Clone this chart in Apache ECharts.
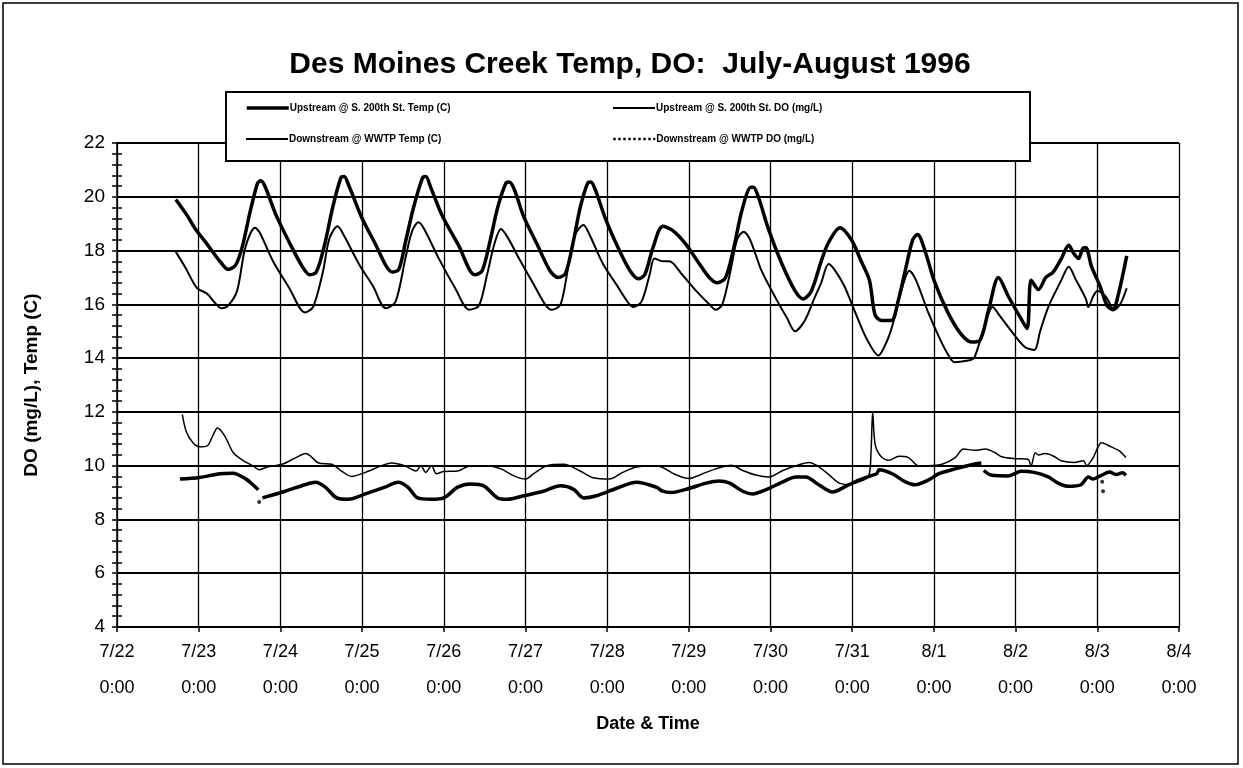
<!DOCTYPE html>
<html>
<head>
<meta charset="utf-8">
<title>Des Moines Creek Temp, DO</title>
<script src="https://cdn.jsdelivr.net/npm/echarts@6/dist/echarts.min.js"></script>
<style>
  html, body { margin: 0; padding: 0; background: #fff; }
  #chart { width: 1243px; height: 768px; }
</style>
</head>
<body>
<div id="chart"></div>
<script>
// x values are days after 7/22 0:00
var xTickLabels = ['7/22\n0:00', '7/23\n0:00', '7/24\n0:00', '7/25\n0:00', '7/26\n0:00', '7/27\n0:00',
  '7/28\n0:00', '7/29\n0:00', '7/30\n0:00', '7/31\n0:00', '8/1\n0:00', '8/2\n0:00', '8/3\n0:00', '8/4\n0:00'];

var seriesNames = ['Upstream @ S. 200th St. Temp (C)', 'Upstream @ S. 200th St. DO (mg/L)',
  'Downstream @ WWTP Temp (C)', 'Downstream @ WWTP DO (mg/L)'];

var upTempT = [0.72, 0.86, 0.96, 1.10, 1.26, 1.36, 1.45, 1.53, 1.63, 1.72, 1.76, 1.81, 1.95, 2.11, 2.26, 2.36, 2.44,
  2.54, 2.64, 2.74, 2.78, 2.84, 3.00, 3.17, 3.29, 3.37, 3.45, 3.53, 3.63, 3.74, 3.78, 3.84, 3.98, 4.18, 4.38,
  4.47, 4.57, 4.66, 4.76, 4.80, 4.86, 4.98, 5.14, 5.30, 5.40, 5.49, 5.59, 5.67, 5.76, 5.80, 5.85, 5.99, 6.15,
  6.28, 6.38, 6.46, 6.56, 6.68, 6.80, 6.96, 7.13, 7.25, 7.35, 7.45, 7.55, 7.65, 7.76, 7.79, 7.85, 7.98, 8.14,
  8.30, 8.40, 8.50, 8.62, 8.71, 8.85, 8.99, 9.11, 9.21, 9.28, 9.36, 9.48, 9.56, 9.66, 9.74, 9.80, 9.90, 10.00,
  10.17, 10.33, 10.46, 10.56, 10.67, 10.79, 10.91, 11.05, 11.14, 11.19, 11.28, 11.37, 11.46, 11.56, 11.65,
  11.71, 11.77, 11.83, 11.86, 11.93, 12.03, 12.12, 12.19, 12.26, 12.36];
var upTempV = [19.9, 19.3, 18.8, 18.25, 17.6, 17.3, 17.45, 18.1, 19.45, 20.5, 20.6, 20.4, 19.3, 18.3, 17.45, 17.1, 17.2,
  18.2, 19.6, 20.7, 20.75, 20.4, 19.2, 18.2, 17.45, 17.2, 17.3, 18.3, 19.6, 20.7, 20.75, 20.35, 19.3, 18.2, 17.1,
  17.25, 18.4, 19.6, 20.5, 20.55, 20.3, 19.25, 18.25, 17.25, 17.0, 17.15, 18.4, 19.6, 20.5, 20.55, 20.3, 19.1, 18.0,
  17.25, 16.95, 17.1, 18.1, 18.9, 18.75, 18.25, 17.5, 17.0, 16.8, 17.0, 18.1, 19.5, 20.35, 20.35, 20.0, 18.75, 17.5,
  16.5, 16.2, 16.5, 17.6, 18.3, 18.85, 18.4, 17.6, 16.9, 15.6, 15.4, 15.4, 16.1, 17.4, 18.4, 18.6, 17.9, 16.9,
  15.7, 14.9, 14.6, 14.65, 15.8, 17.0, 16.3, 15.55, 15.1, 16.9, 16.55, 17.0, 17.2, 17.7, 18.2,
  17.9, 17.7, 18.1, 18.1, 17.4, 16.7, 15.95, 15.8, 16.4, 17.8];

var upDoT = [0.80, 0.85, 0.93, 1.01, 1.11, 1.17, 1.23, 1.32, 1.42, 1.54, 1.66, 1.74, 1.84, 2.02, 2.19, 2.31, 2.47,
  2.63, 2.75, 2.87, 3.04, 3.24, 3.36, 3.52, 3.66, 3.72, 3.78, 3.85, 3.91, 4.00, 4.17, 4.33, 4.53, 4.70, 4.86,
  5.00, 5.10, 5.26, 5.47, 5.67, 5.83, 6.03, 6.19, 6.36, 6.60, 6.85, 7.00, 7.17, 7.33, 7.52, 7.66, 7.82, 7.98,
  8.15, 8.31, 8.47, 8.57, 8.72, 8.84, 8.96, 9.08, 9.20, 9.23, 9.25, 9.28, 9.35, 9.45, 9.57, 9.69, 9.81, 9.93,
  10.10, 10.26, 10.36, 10.50, 10.63, 10.75, 10.83, 10.99, 11.15, 11.19, 11.24, 11.28, 11.36, 11.46, 11.56,
  11.72, 11.83, 11.87, 11.95, 12.01, 12.05, 12.17, 12.27, 12.35];
var upDoV = [11.9, 11.25, 10.85, 10.7, 10.75, 11.1, 11.4, 11.1, 10.5, 10.2, 10.0, 9.85, 9.95, 10.05, 10.3, 10.45, 10.1,
  10.05, 9.8, 9.6, 9.75, 10.0, 10.1, 10.0, 9.8, 10.0, 9.75, 10.0, 9.7, 9.78, 9.8, 10.0, 10.0, 9.88, 9.62,
  9.5, 9.7, 10.0, 10.05, 9.8, 9.55, 9.5, 9.75, 9.95, 10.0, 9.65, 9.52, 9.7, 9.88, 10.02, 9.82, 9.65, 9.58,
  9.82, 10.0, 10.12, 10.0, 9.65, 9.35, 9.3, 9.4, 9.6, 10.5, 12.0, 10.8, 10.35, 10.2, 10.35, 10.3, 10.0, 10.0,
  10.05, 10.3, 10.62, 10.57, 10.62, 10.48, 10.33, 10.26, 10.24, 10.0, 10.48, 10.4, 10.45, 10.36, 10.18,
  10.12, 10.18, 10.0, 10.3, 10.7, 10.85, 10.7, 10.55, 10.3];

var downTempT = [0.72, 0.84, 0.98, 1.10, 1.20, 1.28, 1.36, 1.47, 1.57, 1.69, 1.75, 1.91, 2.11, 2.30, 2.40, 2.52, 2.60,
  2.70, 2.78, 2.97, 3.13, 3.29, 3.41, 3.53, 3.61, 3.69, 3.76, 3.94, 4.14, 4.31, 4.43, 4.53, 4.62, 4.70, 4.78,
  4.94, 5.10, 5.24, 5.32, 5.43, 5.53, 5.61, 5.71, 5.79, 5.95, 6.11, 6.26, 6.32, 6.42, 6.52, 6.58, 6.68, 6.76,
  6.92, 7.09, 7.25, 7.33, 7.41, 7.51, 7.59, 7.67, 7.75, 7.89, 8.06, 8.20, 8.30, 8.42, 8.54, 8.62, 8.71, 8.78,
  8.90, 9.05, 9.18, 9.32, 9.42, 9.50, 9.60, 9.70, 9.78, 9.93, 10.06, 10.16, 10.25, 10.40, 10.49, 10.60, 10.72,
  10.80, 11.00, 11.12, 11.23, 11.30, 11.40, 11.56, 11.65, 11.74, 11.86, 11.89, 11.95, 12.00, 12.10, 12.21,
  12.28, 12.36];
var downTempV = [17.95, 17.35, 16.6, 16.4, 16.05, 15.85, 15.95, 16.5, 18.1, 18.85, 18.65, 17.6, 16.6, 15.7, 15.9, 17.2, 18.45,
  18.9, 18.55, 17.45, 16.7, 15.85, 16.1, 17.7, 18.7, 19.05, 18.8, 17.7, 16.6, 15.8, 15.95, 17.1, 18.25, 18.8, 18.5,
  17.6, 16.75, 16.0, 15.8, 16.0, 17.5, 18.6, 18.95, 18.55, 17.5, 16.75, 16.05, 15.9, 16.1, 17.1, 17.7, 17.6, 17.6,
  17.1, 16.5, 16.0, 15.8, 16.0, 17.25, 18.4, 18.7, 18.4, 17.25, 16.25, 15.5, 15.0, 15.4, 16.25, 16.8, 17.5, 17.3,
  16.7, 15.6, 14.7, 14.1, 14.6, 15.3, 16.5, 17.25, 16.9, 15.7, 14.8, 14.2, 13.85, 13.9, 14.0, 15.0, 15.9,
  15.6, 14.8, 14.4, 14.3, 15.0, 15.9, 16.9, 17.4, 16.9, 16.2, 15.9, 16.3, 16.5, 16.3, 15.8,
  16.0, 16.6];

// null marks a gap in the record
var downDoT = [0.77, 1.01, 1.26, 1.42, 1.58, 1.66, 1.73, 1.755, 1.78, 2.06, 2.31, 2.43, 2.55, 2.69, 2.83, 3.04, 3.28,
  3.44, 3.56, 3.68, 3.85, 4.00, 4.17, 4.33, 4.49, 4.66, 4.78, 4.98, 5.22, 5.43, 5.59, 5.71, 5.87, 6.11, 6.36,
  6.60, 6.68, 6.78, 7.00, 7.21, 7.37, 7.50, 7.66, 7.78, 7.94, 8.15, 8.31, 8.43, 8.59, 8.76, 8.92, 9.08, 9.24,
  9.30, 9.33, 9.49, 9.65, 9.77, 9.93, 10.06, 10.26, 10.50, 10.58, 10.595, 10.61, 10.71, 10.91, 11.07, 11.24,
  11.40, 11.52, 11.64, 11.80, 11.89, 11.95, 12.05, 12.15, 12.23, 12.31, 12.35];
var downDoV = [9.5, 9.56, 9.7, 9.72, 9.5, 9.3, 9.1, null, 8.8, 9.05, 9.3, 9.38, 9.2, 8.8, 8.75, 8.95, 9.2,
  9.38, 9.2, 8.8, 8.75, 8.8, 9.2, 9.32, 9.25, 8.8, 8.75, 8.88, 9.05, 9.25, 9.12, 8.8, 8.88, 9.15, 9.38,
  9.2, 9.05, 9.0, 9.15, 9.35, 9.43, 9.35, 9.05, 8.95, 9.1, 9.4, 9.58, 9.58, 9.29, 9.02, 9.23, 9.46, 9.64,
  9.7, 9.85, 9.7, 9.4, 9.29, 9.46, 9.7, 9.88, 10.06, 10.1, null, 9.82, 9.64, 9.62, 9.79, 9.74,
  9.58, 9.35, 9.23, 9.29, 9.58, 9.5, 9.64, 9.76, 9.67, 9.74, 9.64];

// loose points of the downstream DO record
var downDoDotT = [1.74, 12.06, 12.07];
var downDoDotV = [8.65, 9.4, 9.05];

function pairs(t, v) {
  var out = [];
  for (var i = 0; i < t.length; i++) {
    out.push([t[i], v[i] === null ? '-' : v[i]]);
  }
  return out;
}

var FONT = "'Liberation Sans', Arial, sans-serif";
var chart = echarts.init(document.getElementById('chart'));

function legendFor(name, left, top, lineStyle) {
  return {
    data: [name],
    left: left,
    top: top,
    z: 6,
    padding: 0,
    itemWidth: 42,
    itemHeight: 12,
    itemGap: 0,
    selectedMode: false,
    itemStyle: { opacity: 0 },
    lineStyle: lineStyle,
    textStyle: { fontFamily: FONT, fontSize: 10, fontWeight: 'bold', color: '#000', padding: [0, 0, 0, -4] }
  };
}

var option = {
  backgroundColor: '#fff',
  animation: false,
  color: ['#000', '#000', '#000', '#000', '#000'],
  title: {
    text: 'Des Moines Creek Temp, DO:  July-August 1996',
    left: 625,
    top: 45,
    textAlign: 'center',
    textStyle: { fontFamily: FONT, fontSize: 30, fontWeight: 'bold', color: '#000' }
  },
  legend: [
    legendFor(seriesNames[0], 245, 103, { color: '#000', width: 3.5 }),
    legendFor(seriesNames[1], 612, 103, { color: '#000', width: 2 }),
    legendFor(seriesNames[2], 245, 134, { color: '#000', width: 2 }),
    legendFor(seriesNames[3], 612, 134, { color: '#000', type: 'dotted', width: 2.5 })
  ],
  graphic: [
    {
      type: 'rect', z: 3,
      shape: { x: 226, y: 92, width: 804, height: 69 },
      style: { fill: '#fff', stroke: '#000', lineWidth: 2 }
    },
    {
      type: 'rect', z: 1,
      shape: { x: 3, y: 3, width: 1235, height: 761 },
      style: { fill: 'none', stroke: '#000', lineWidth: 1.5 }
    }
  ],
  grid: { left: 117, right: 64, top: 143, bottom: 141, containLabel: false },
  xAxis: {
    type: 'value',
    min: 0,
    max: 13,
    interval: 1,
    name: 'Date & Time',
    nameLocation: 'middle',
    nameGap: 88,
    nameTextStyle: { fontFamily: FONT, fontSize: 18, fontWeight: 'bold', color: '#000' },
    axisLine: { lineStyle: { color: '#000', width: 1.5 } },
    axisTick: { show: true, length: 5, lineStyle: { color: '#000', width: 1.5 } },
    axisLabel: {
      fontFamily: FONT, fontSize: 18, color: '#000', lineHeight: 36, margin: 7,
      formatter: function (val) { return xTickLabels[Math.round(val)]; }
    },
    splitLine: { show: true, lineStyle: { color: '#000', width: 1.3 } }
  },
  yAxis: [
    {
      type: 'value',
      min: 4,
      max: 22,
      interval: 2,
      name: 'DO (mg/L), Temp (C)',
      nameLocation: 'middle',
      nameGap: 76,
      nameTextStyle: { fontFamily: FONT, fontSize: 19, fontWeight: 'bold', color: '#000' },
      axisLine: { lineStyle: { color: '#000', width: 1.5 } },
      axisTick: { show: true, length: 5, lineStyle: { color: '#000', width: 1.5 } },
      minorTick: { show: true, splitNumber: 5, length: 5, lineStyle: { color: '#000', width: 1.5 } },
      axisLabel: { fontFamily: FONT, fontSize: 19, color: '#000', margin: 12 },
      splitLine: { show: true, lineStyle: { color: '#000', width: 2 } }
    },
    {
      // inside half of the crossing tick marks
      type: 'value',
      min: 4,
      max: 22,
      interval: 2,
      position: 'left',
      axisLine: { show: false },
      axisTick: { show: true, inside: true, length: 5, lineStyle: { color: '#000', width: 1.5 } },
      minorTick: { show: true, splitNumber: 5, length: 5, lineStyle: { color: '#000', width: 1.5 } },
      axisLabel: { show: false },
      splitLine: { show: false }
    }
  ],
  series: [
    {
      name: seriesNames[0], type: 'line', symbol: 'none', smooth: 0.3,
      itemStyle: { color: '#000' },
      lineStyle: { color: '#000', width: 3.5 },
      data: pairs(upTempT, upTempV)
    },
    {
      name: seriesNames[1], type: 'line', symbol: 'none', smooth: 0.3,
      itemStyle: { color: '#000' },
      lineStyle: { color: '#000', width: 1.5 },
      data: pairs(upDoT, upDoV)
    },
    {
      name: seriesNames[2], type: 'line', symbol: 'none', smooth: 0.3,
      itemStyle: { color: '#000' },
      lineStyle: { color: '#000', width: 2 },
      data: pairs(downTempT, downTempV)
    },
    {
      name: seriesNames[3], type: 'line', symbol: 'none', smooth: 0.3, connectNulls: false,
      itemStyle: { color: '#000' },
      lineStyle: { color: '#000', width: 3.5 },
      data: pairs(downDoT, downDoV)
    },
    {
      name: 'Downstream DO loose points', type: 'scatter', symbol: 'circle', symbolSize: 4,
      itemStyle: { color: '#000' },
      data: pairs(downDoDotT, downDoDotV)
    }
  ]
};

chart.setOption(option);
</script>
</body>
</html>
